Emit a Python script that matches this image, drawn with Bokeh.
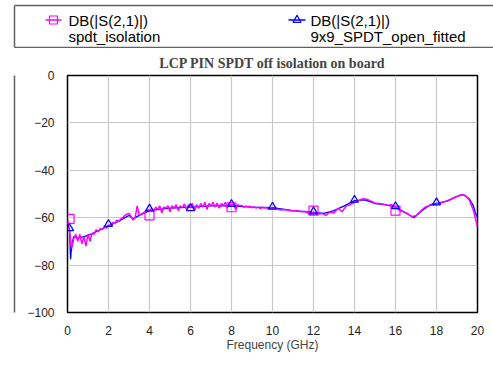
from bokeh.plotting import figure
from bokeh.models import Range1d, FixedTicker, LinearAxis
from bokeh.layouts import column, row
from bokeh.core.properties import value
from bokeh.embed import file_html
from bokeh.resources import INLINE

W, H = 493, 365
TOP_H = 48
STRIP_W = 20

# measured (noisy) curve: spdt_isolation
meas_f = [round(0.1 * i, 1) for i in range(101)] + [round(10.2 + 0.2 * i, 1) for i in range(50)]
meas_db = [
    -60.5, -66, -73, -69, -67, -70, -67, -71, -68, -72,
    -67, -70, -66.5, -67, -65, -66, -64.5, -65, -63.5, -64.5,
    -63, -63.5, -62, -62.5, -61, -61.5, -60.5, -60, -59, -58.5,
    -58.2, -59.5, -61, -60, -55, -59, -58.5, -58, -57.5, -56.5,
    -57, -56, -57.5, -55.5, -56.5, -55, -58, -55.5, -56, -55,
    -57.5, -55, -56, -54.5, -57, -55, -55.8, -54.2, -56.5, -54.5,
    -55.5, -54, -57, -54.5, -56, -54, -55.5, -53.5, -56.5, -54,
    -55, -53.5, -55.5, -53.8, -56, -54, -54.8, -53.5, -55.8, -54,
    -55, -54, -56.5, -54.5, -55, -54.8, -55.6, -55, -55.5, -55.2,
    -55.8, -55.3, -56, -55.5, -56.2, -55.6, -55.9, -55.7, -56.3, -55.8,
    -56,
    -56.2, -56.8, -56.5, -57, -57.2, -57, -57.5, -57.3, -58.5, -57.8,
    -58.5, -58.2, -59, -57.6, -58, -56, -57.5, -55, -54.5, -53.5,
    -52.8, -52, -52.2, -53, -53.8, -54, -54.3, -54.8, -54.5, -55.5,
    -57, -57.5, -58.3, -59.5, -59.2, -57.5, -55.8, -55, -54.6, -54.2,
    -53.8, -53.2, -52.8, -51.8, -51, -50.3, -50.5, -52.5, -57, -64,
]
meas_mk_f = [0.1, 4.0, 8.0, 12.0, 16.0]
meas_mk_db = [-60.5, -59, -55.6, -57, -57]

# fitted model curve: 9x9_SPDT_open_fitted
fit_f = [0, 0.1, 0.15, 0.2, 0.3, 0.5, 0.8, 1.0, 1.5, 2.0, 2.5, 3.0, 3.2, 3.5, 4.0,
         5, 6, 7, 8, 9, 10, 11, 12, 12.5, 13, 13.5, 14, 14.5, 15, 15.5, 16, 16.5,
         16.9, 17.3, 17.7, 18, 18.5, 19, 19.3, 19.6, 19.8, 19.9, 20]
fit_db = [-62, -65, -77.5, -72, -68, -68.5, -68, -67.5, -65.5, -63.5, -61.5, -59, -60.5, -59, -57,
          -56, -55.5, -55, -55, -55.5, -55.8, -57, -57.8, -58.2, -57, -55, -52.8, -52.5, -54, -54.5,
          -55.5, -58, -60, -57, -54.5, -54, -53, -51, -50.3, -52, -55, -58, -60]
fit_mk_f = [0.1, 2, 4, 6, 8, 10, 12, 14, 16, 18]
fit_mk_db = [-64.5, -62.7, -56.2, -56, -54.3, -55.4, -57.4, -52.5, -55.2, -53.6]

x_ticks = [0, 2, 4, 6, 8, 10, 12, 14, 16, 18, 20]
y_ticks = [0, -20, -40, -60, -80, -100]

title_text = "LCP PIN SPDT off isolation on board"
leg_title = ["DB(|S(2,1)|)", "DB(|S(2,1)|)"]
leg_name = ["spdt_isolation", "9x9_SPDT_open_fitted"]

MAG = "#FF00FF"
BLU = "#0000FF"
GR = "#606060"
FONT = "Liberation Sans"


def border_axis():
    ax = LinearAxis(ticker=FixedTicker(ticks=[]))
    ax.axis_line_color = GR
    ax.axis_line_width = 1.5
    ax.major_tick_line_color = None
    ax.minor_tick_line_color = None
    return ax


def bare(w, h, left, top, bottom, xr, yr, sides):
    fig = figure(width=w, height=h, output_backend="svg", toolbar_location=None,
                 x_range=xr, y_range=yr, x_axis_location=None, y_axis_location=None,
                 min_border_left=left, min_border_top=top, min_border_bottom=bottom,
                 min_border_right=0)
    fig.grid.visible = False
    fig.outline_line_color = None
    fig.background_fill_color = "white"
    fig.border_fill_color = "white"
    for s in sides:
        fig.add_layout(border_axis(), s)
    return fig


# ---- legend area (ranges chosen so data units equal pixels) ----
leg = bare(W, TOP_H, 14, 5, 1, Range1d(14, W), Range1d(TOP_H - 1, 5), ["above", "left", "below"])
sample_x0 = [45, 288]
sample_x1 = [61, 305]
text_x = [68, 310]
leg.segment(x0=sample_x0, y0=[19.5, 19.5], x1=sample_x1, y1=[19.5, 19.5], line_color=[MAG, BLU], line_width=1.3)
leg.scatter([53], [19.5], marker="square", size=8, fill_color=None, line_color=MAG, line_width=1.2)
leg.scatter([296.5], [19.5], marker="triangle", size=8, fill_color=None, line_color=BLU, line_width=1.2)
leg.text(x=text_x, y=[19.5, 19.5], text=leg_title, text_font=value(FONT), text_font_size="15px",
         text_baseline="middle", text_color="black")
leg.text(x=text_x, y=[35.5, 35.5], text=leg_name, text_font=value(FONT), text_font_size="15px",
         text_baseline="middle", text_color="black")

# ---- left strip carrying the gray border line ----
strip = bare(STRIP_W, H - TOP_H, 14, 0, 0, Range1d(0, 1), Range1d(0, 1), ["left"])

# ---- main plot ----
p = figure(width=W - STRIP_W, height=H - TOP_H, output_backend="svg", toolbar_location=None,
           x_range=Range1d(0, 20), y_range=Range1d(-100, 0),
           min_border_left=67 - STRIP_W, min_border_right=16, min_border_top=27, min_border_bottom=53)
p.background_fill_color = "white"
p.border_fill_color = "white"
p.outline_line_color = "black"
p.outline_line_width = 1.5

p.title.text = title_text
p.title.align = "center"
p.title.text_font = "Liberation Serif"
p.title.text_font_style = "bold"
p.title.text_font_size = "14px"
p.title.standoff = 9

for ax, ticks in ((p.xaxis, x_ticks), (p.yaxis, y_ticks)):
    ax.ticker = FixedTicker(ticks=ticks)
    ax.axis_line_color = None
    ax.major_tick_line_color = None
    ax.minor_tick_line_color = None
    ax.major_label_text_font = FONT
    ax.major_label_text_font_size = "12px"
    ax.major_label_text_color = "#222222"
p.xgrid.ticker = FixedTicker(ticks=x_ticks)
p.ygrid.ticker = FixedTicker(ticks=y_ticks)
p.yaxis.major_label_standoff = 7
p.xaxis.major_label_standoff = 7
p.xaxis.axis_label = "Frequency (GHz)"
p.xaxis.axis_label_text_font = FONT
p.xaxis.axis_label_text_font_size = "12px"
p.xaxis.axis_label_text_font_style = "normal"
p.xaxis.axis_label_standoff = 0

p.grid.grid_line_color = "#C8C8C8"
p.grid.grid_line_width = 1.2

p.line(fit_f, fit_db, color=BLU, line_width=1.3)
p.line(meas_f, meas_db, color=MAG, line_width=1.5)
p.scatter(meas_mk_f, meas_mk_db, marker="square", size=9, fill_color=None, line_color=MAG, line_width=1.2)
p.scatter(fit_mk_f, fit_mk_db, marker="triangle", size=8, fill_color=None, line_color=BLU, line_width=1.2)

layout = column(leg, row(strip, p, spacing=0), spacing=0)
open("out.html", "w").write(file_html(layout, INLINE))
